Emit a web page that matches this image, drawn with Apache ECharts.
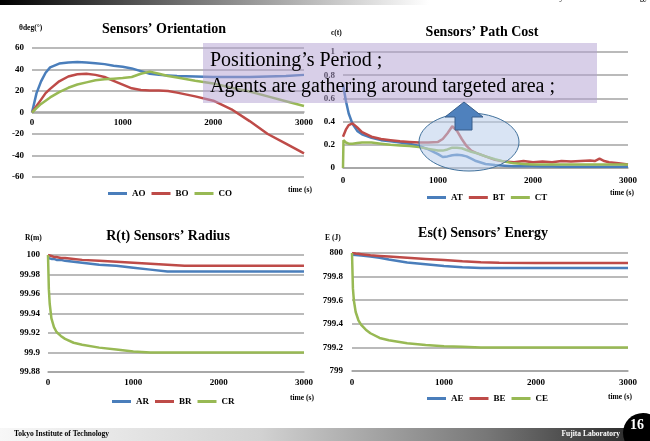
<!DOCTYPE html>
<html>
<head>
<meta charset="utf-8">
<script src="https://cdn.jsdelivr.net/npm/echarts@6/dist/echarts.min.js"></script>
<style>
  html, body { margin: 0; padding: 0; background: #fff; }
  #chart { width: 650px; height: 441px; }
</style>
</head>
<body>
<div id="chart"></div>
<script>
// ---- Orientation (deg) ----
const orientTime = [0,50,100,150,200,300,400,500,600,700,800,900,1000,1100,1200,1300,1400,1500,1600,1800,2000,2200,2400,2600,2800,3000];
const orientA = [0,18,29,37,42,45.5,46.5,47,46.5,45.8,45,43.5,42.5,41,38.5,36,35,34.5,34,33.5,33,33,33,33.5,34,35];
const orientB = [0,6,12,18,22,29,33.5,35.5,36,35,33,29.5,26,22.5,21,20.5,20.5,20,18.5,15,11,3,-8,-20,-29,-38];
const orientC = [0,4,8,11,14,19,23,26,28,30,31,31.5,32,33,36,38,36,34,32.5,29.5,27,23,19.5,15,10.5,6];

// ---- Path cost ----
const costTime = [0,5,30,60,100,150,200,300,400,500,600,700,800,900,1000,1050,1100,1150,1200,1250,1300,1350,1400,1500,1600,1700,1800,1900,2000,2100,2200,2300,2400,2500,2600,2650,2700,2750,2800,2900,3000];
const costA = [0.72,0.70,0.58,0.47,0.38,0.32,0.29,0.26,0.24,0.23,0.22,0.21,0.19,0.16,0.12,0.095,0.10,0.11,0.115,0.11,0.10,0.08,0.06,0.035,0.025,0.02,0.015,0.015,0.015,0.012,0.012,0.01,0.01,0.01,0.01,0.01,0.01,0.01,0.01,0.01,0.01];
const costB = [0.27,0.28,0.33,0.37,0.385,0.35,0.31,0.27,0.25,0.24,0.23,0.225,0.22,0.22,0.225,0.25,0.30,0.36,0.32,0.25,0.19,0.15,0.13,0.10,0.07,0.055,0.05,0.06,0.05,0.055,0.05,0.06,0.055,0.06,0.065,0.06,0.08,0.06,0.05,0.04,0.03];
const costC = [0,0.24,0.22,0.21,0.21,0.215,0.22,0.22,0.21,0.20,0.195,0.19,0.18,0.165,0.15,0.15,0.16,0.175,0.175,0.17,0.155,0.14,0.13,0.10,0.075,0.055,0.04,0.035,0.03,0.03,0.03,0.03,0.03,0.03,0.03,0.03,0.03,0.03,0.03,0.03,0.03];

// ---- Radius (m) and energy (J) ----
const stateTime = [0,10,20,40,70,100,150,200,300,400,600,800,1000,1200,1400,1600,2000,2500,3000];
const radiusA = [99.997,99.997,99.997,99.996,99.996,99.995,99.995,99.994,99.993,99.992,99.990,99.989,99.987,99.985,99.983,99.983,99.983,99.983,99.983];
const radiusB = [100,99.999,99.999,99.999,99.998,99.998,99.997,99.997,99.996,99.995,99.994,99.993,99.992,99.991,99.990,99.989,99.989,99.989,99.989];
const radiusC = [100,99.965,99.95,99.935,99.926,99.921,99.917,99.914,99.91,99.908,99.905,99.903,99.901,99.9,99.9,99.9,99.9,99.9,99.9];
const energyA = [799.985,799.984,799.983,799.982,799.98,799.978,799.975,799.97,799.96,799.945,799.92,799.905,799.89,799.88,799.873,799.872,799.872,799.872,799.872];
const energyB = [800,799.998,799.997,799.995,799.993,799.99,799.985,799.98,799.975,799.97,799.96,799.95,799.94,799.93,799.922,799.917,799.915,799.915,799.915];
const energyC = [800,799.7,799.6,799.5,799.43,799.39,799.35,799.32,799.28,799.26,799.235,799.22,799.21,799.205,799.2,799.2,799.2,799.2,799.2];

// ---- axis ticks ----
const timeTicks = { min: 0, max: 3000, interval: 1000 };
const orientTicks = { min: -60, max: 60, interval: 20 };
const costTicks = { min: 0, max: 1, interval: 0.2 };
const radiusTicks = { min: 99.88, max: 100, interval: 0.02 };
const energyTicks = { min: 799, max: 800, interval: 0.2 };

const BLUE = '#4a7ebb', RED = '#be4b48', GREEN = '#98b954';
const SERIF = '"Liberation Serif", "Times New Roman", serif';
const GRID_GRAY = '#a3a3a3';

const zip = (t, v) => t.map((x, i) => [x, v[i]]);

const grids = [
  { left: 32, top: 48, width: 272, height: 129 },
  { left: 343, top: 52, width: 285, height: 116 },
  { left: 48, top: 255, width: 256, height: 117 },
  { left: 352, top: 253, width: 276, height: 118 }
];

const tickFont = { fontFamily: SERIF, fontWeight: 'bold', fontSize: 9, color: '#000' };

// offset lifts an axis off the grid bottom (orientation axis sits on y = 0)
function xAxis(i, margin, offset) {
  return {
    type: 'value', gridIndex: i, ...timeTicks,
    offset: offset || 0,
    splitLine: { show: false },
    axisTick: { show: false },
    axisLine: { show: true, onZero: false, lineStyle: { color: GRID_GRAY, width: 1.5 } },
    axisLabel: { ...tickFont, margin: margin, showMinLabel: true, showMaxLabel: true,
      formatter: v => String(v) }
  };
}
function yAxis(i, ticks, margin, fmt) {
  return {
    type: 'value', gridIndex: i, ...ticks,
    axisLine: { show: false },
    axisTick: { show: false },
    splitLine: { show: true, lineStyle: { color: GRID_GRAY, width: 1.5 } },
    axisLabel: { ...tickFont, margin: margin, formatter: fmt }
  };
}
function line(name, i, t, v, color) {
  return {
    name, type: 'line', xAxisIndex: i, yAxisIndex: i,
    data: zip(t, v), symbol: 'none', showSymbol: false,
    lineStyle: { color, width: 2.5 }, itemStyle: { color },
    animation: false
  };
}
function legend(names, left, top) {
  return {
    data: names, left, top, icon: 'rect', itemWidth: 19, itemHeight: 3,
    itemGap: 6, padding: 0,
    textStyle: { fontFamily: SERIF, fontWeight: 'bold', fontSize: 9, color: '#000' }
  };
}
function title(text, cx, top) {
  return { text, left: cx, top, textAlign: 'center', padding: 0,
    textStyle: { fontFamily: SERIF, fontWeight: 'bold', fontSize: 14, color: '#000' } };
}
function label(text, x, y, size, opts) {
  return { type: 'text', x, y, z: 50, silent: true,
    style: Object.assign({ text, fontFamily: SERIF, fontWeight: 'bold', fontSize: size,
      fill: '#000', align: 'left', verticalAlign: 'middle' }, opts || {}) };
}

const fmt2 = v => String(+v.toFixed(2));
const fmt1 = v => String(+v.toFixed(1));

const option = {
  backgroundColor: '#fff',
  animation: false,
  title: [
    title('Sensors’ Orientation', 164, 22),
    title('Sensors’ Path Cost', 482, 25),
    title('R(t) Sensors’ Radius', 168, 229),
    title('Es(t) Sensors’ Energy', 483, 226)
  ],
  grid: grids,
  xAxis: [xAxis(0, 6, -65), xAxis(1, 8), xAxis(2, 6), xAxis(3, 7)],
  yAxis: [
    yAxis(0, orientTicks, 8, v => String(Math.round(v))),
    yAxis(1, costTicks, 8, fmt1),
    yAxis(2, radiusTicks, 8, fmt2),
    yAxis(3, energyTicks, 9, fmt1)
  ],
  legend: [
    legend(['AO', 'BO', 'CO'], 108, 189),
    legend(['AT', 'BT', 'CT'], 427, 193),
    legend(['AR', 'BR', 'CR'], 112, 397),
    legend(['AE', 'BE', 'CE'], 427, 394)
  ],
  series: [
    line('AO', 0, orientTime, orientA, BLUE),
    line('BO', 0, orientTime, orientB, RED),
    line('CO', 0, orientTime, orientC, GREEN),
    line('AT', 1, costTime, costA, BLUE),
    line('BT', 1, costTime, costB, RED),
    line('CT', 1, costTime, costC, GREEN),
    line('AR', 2, stateTime, radiusA, BLUE),
    line('BR', 2, stateTime, radiusB, RED),
    line('CR', 2, stateTime, radiusC, GREEN),
    line('AE', 3, stateTime, energyA, BLUE),
    line('BE', 3, stateTime, energyB, RED),
    line('CE', 3, stateTime, energyC, GREEN)
  ],
  graphic: [
    // slide header band
    { type: 'rect', z: 40, silent: true, shape: { x: 0, y: 0, width: 650, height: 5 },
      style: { fill: new echarts.graphic.LinearGradient(0, 0, 1, 0, [
        { offset: 0, color: '#000' }, { offset: 0.3, color: '#777' }, { offset: 0.66, color: '#fff' }, { offset: 1, color: '#fff' }]) } },
    label('Tokyo Institute of Technology', 648, -2, 8, { align: 'right' }),
    // slide footer band
    { type: 'rect', z: 40, silent: true, shape: { x: 0, y: 428, width: 650, height: 13 },
      style: { fill: new echarts.graphic.LinearGradient(0, 0, 1, 0, [
        { offset: 0, color: '#f7f7f7' }, { offset: 0.4, color: '#d2d2d2' }, { offset: 0.75, color: '#777' }, { offset: 1, color: '#222' }]) } },
    label('Tokyo Institute of Technology', 14, 434.5, 7.5),
    label('Fujita Laboratory', 620, 434.5, 7.5, { align: 'right', fill: '#fff' }),
    { type: 'circle', z: 41, silent: true, shape: { cx: 643, cy: 433, r: 20 }, style: { fill: '#000' } },
    label('16', 637, 425, 14, { align: 'center', fill: '#fff' }),
    // unit labels
    label('θdeg(°)', 19, 28, 7.5),
    label('c(t)', 331, 33, 7.5),
    label('R(m)', 25, 238, 7.5),
    label('E (J)', 325, 238, 7.5),
    label('time (s)', 288, 190, 7.5),
    label('time (s)', 610, 193, 7.5),
    label('time (s)', 290, 398, 7.5),
    label('time (s)', 608, 397, 7.5),
    // highlighted period
    { type: 'ellipse', z: 45, silent: true, shape: { cx: 469, cy: 142, rx: 50, ry: 29 },
      style: { fill: 'rgba(185,205,235,0.55)', stroke: '#41719c', lineWidth: 1 } },
    { type: 'rect', z: 46, silent: true, shape: { x: 203, y: 43, width: 394, height: 60 },
      style: { fill: 'rgba(178,160,210,0.5)' } },
    { type: 'polygon', z: 47, silent: true,
      shape: { points: [[464,102],[483,117],[472,117],[472,130],[455,130],[455,117],[445,117]] },
      style: { fill: '#4f81bd', stroke: '#385d8a', lineWidth: 1 } },
    { type: 'text', z: 48, silent: true, x: 210, y: 61,
      style: { text: 'Positioning’s Period ;', fontFamily: SERIF, fontSize: 20, fill: '#000', verticalAlign: 'middle' } },
    { type: 'text', z: 48, silent: true, x: 210, y: 87,
      style: { text: 'Agents are gathering around targeted area ;', fontFamily: SERIF, fontSize: 20, fill: '#000', verticalAlign: 'middle' } }
  ]
};

const chart = echarts.init(document.getElementById('chart'), null, { renderer: 'canvas' });
chart.setOption(option);
</script>
</body>
</html>
